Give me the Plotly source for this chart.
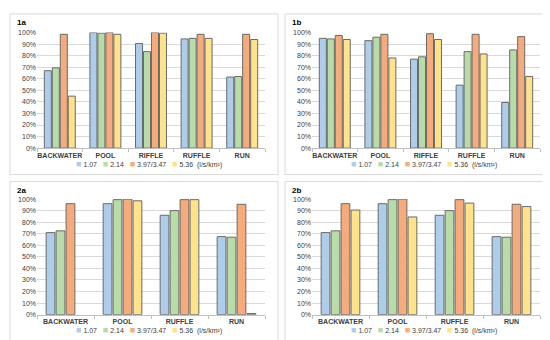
import plotly.graph_objects as go

W, H = 550, 340

series_names = ["1.07", "2.14", "3.97/3.47", "5.36"]
legend_labels = ["1.07", "2.14", "3.97/3.47", "5.36\u00a0\u00a0(l/s/km²)"]
colors = ["#AECDEB", "#B8DCA8", "#F5AB7C", "#FFE28A"]

cats_1 = ["BACKWATER", "POOL", "RIFFLE", "RUFFLE", "RUN"]
cats_2 = ["BACKWATER", "POOL", "RUFFLE", "RUN"]

# values in percent, one list per series
p1a = [
    [67, 100, 90.5, 94.5, 61.5],
    [69.5, 99.5, 83.5, 95, 62],
    [98.5, 100, 100, 98.5, 98.5],
    [45, 98.5, 99.5, 95, 94],
]
p1b = [
    [95, 93, 77, 54.5, 39.5],
    [94.5, 96, 79, 83.5, 85],
    [97.5, 98.5, 99, 98.5, 96.5],
    [94, 78, 94, 81.5, 62],
]
p2a = [
    [71, 96, 86, 67.5],
    [72.5, 99.5, 90, 67],
    [96, 100, 99.5, 95.5],
    [None, 98.5, 99.5, 1],
]
p2b = [
    [71, 96, 86, 67.5],
    [72.5, 99.5, 90, 67],
    [96, 100, 99.5, 95.5],
    [90.5, 84.5, 96.5, 93.5],
]

panels = [
    ("1a", cats_1, p1a, (2, 2, 270, 166), (29, 257, 21, 139)),
    ("1b", cats_1, p1b, (277, 2, 546, 166), (304, 532, 21, 139)),
    ("2a", cats_2, p2a, (2, 173, 270, 337), (29, 257, 191, 309)),
    ("2b", cats_2, p2b, (277, 173, 546, 337), (304, 532, 191, 309)),
]

def px(x):
    return x / W

def py(y):
    return 1 - y / H

FONT = "Liberation Sans"
fig = go.Figure()
shapes = []
annotations = []
layout = {}

for i, (title, cats, vals, box, area) in enumerate(panels):
    n = i + 1
    xa = "x" if n == 1 else f"x{n}"
    ya = "y" if n == 1 else f"y{n}"
    for s in range(4):
        fig.add_trace(go.Bar(
            x=cats, y=vals[s], name=series_names[s],
            marker=dict(color=colors[s], line=dict(color="#6A6A6A", width=1)),
            xaxis=xa, yaxis=ya, showlegend=False,
        ))
    x0, x1, y0, y1 = area
    xkey = "xaxis" if n == 1 else f"xaxis{n}"
    ykey = "yaxis" if n == 1 else f"yaxis{n}"
    layout[xkey] = dict(
        domain=[px(x0), px(x1)], anchor=ya, type="category",
        showline=True, linecolor="#BFBFBF", linewidth=1,
        ticks="outside", tickson="boundaries", ticklen=3, tickcolor="#BFBFBF",
        tickangle=0,
        tickfont=dict(family=FONT, size=7, color="#404040", weight="bold"),
        showgrid=False, fixedrange=True,
    )
    layout[ykey] = dict(
        domain=[py(y1), py(y0)], anchor=xa, range=[0, 100],
        tickvals=list(range(0, 101, 10)),
        ticktext=[f"{v}%" for v in range(0, 101, 10)],
        tickfont=dict(family=FONT, size=7, color="#404040"),
        showgrid=True, gridcolor="#D9D9D9", gridwidth=1,
        zeroline=False, showline=False, ticks="", fixedrange=True,
    )
    bx0, by0, bx1, by1 = box
    shapes.append(dict(type="rect", xref="paper", yref="paper",
                       x0=px(bx0), x1=px(bx1), y0=py(by1), y1=py(by0),
                       line=dict(color="#D9D9D9", width=1), fillcolor="rgba(0,0,0,0)"))
    annotations.append(dict(text=f"<b>{title}</b>", xref="paper", yref="paper",
                            x=px(bx0 + 5), y=py(by0 + 9), xanchor="left", yanchor="middle",
                            showarrow=False, font=dict(family=FONT, size=8, color="#000000")))
    # legend
    parts = []
    for s in range(4):
        parts.append(f"<span style='color:{colors[s]};font-size:9px'>■</span>\u00a0{legend_labels[s]}")
    legend_text = "\u00a0\u00a0\u00a0".join(parts)
    annotations.append(dict(text=legend_text, xref="paper", yref="paper",
                            x=px((x0 + x1) / 2 - 2), y=py(y1 + 16), xanchor="center", yanchor="middle",
                            showarrow=False, font=dict(family=FONT, size=7, color="#404040")))

fig.update_layout(
    width=W, height=H, margin=dict(l=0, r=0, t=0, b=0),
    paper_bgcolor="white", plot_bgcolor="white",
    barmode="group", bargap=0.3, bargroupgap=0.12,
    shapes=shapes, annotations=annotations, showlegend=False,
    **layout,
)

fig.write_html("out.html")
